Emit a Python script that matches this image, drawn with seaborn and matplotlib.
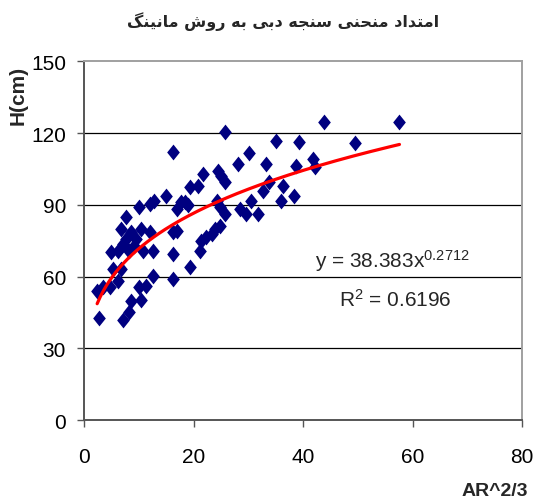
import matplotlib
matplotlib.use("Agg")
import matplotlib.pyplot as plt
import seaborn as sns
import numpy as np
import pandas as pd

# AR^(2/3) vs stage H (cm)
ar23 = [2.4, 2.7, 3.5, 4.7, 5.3, 5.0, 6.2, 6.2, 6.8, 6.8, 7.1, 7.1, 7.7, 7.7,
        8.3, 8.3, 8.6, 8.6, 9.2, 9.5, 10.1, 10.1, 10.4, 10.4, 10.7, 11.3, 12.0,
        12.0, 12.6, 12.6, 12.8, 15.0, 16.2, 16.2, 16.3, 16.3, 16.9, 16.9, 17.8,
        18.4, 19.3, 19.0, 19.3, 20.8, 21.1, 21.4, 21.7, 22.3, 23.3, 23.9, 24.2,
        24.5, 24.8, 24.8, 25.1, 25.7, 25.7, 25.7, 28.1, 28.4, 29.6, 30.2, 30.5,
        31.7, 32.7, 33.3, 33.8, 35.1, 36.0, 36.3, 38.4, 38.7, 39.2, 41.9, 42.1,
        43.9, 49.4, 57.6]
h_cm = [54.0, 42.5, 55.5, 55.5, 63.2, 70.1, 58.3, 70.8, 63.2, 79.9, 42.0, 73.6,
        75.7, 84.8, 45.0, 70.8, 49.9, 78.5, 72.9, 75.7, 55.5, 89.0, 50.4, 79.9,
        70.8, 56.2, 78.5, 90.3, 60.4, 70.8, 91.7, 93.8, 59.0, 69.4, 112.2, 78.5,
        79.2, 88.2, 91.0, 91.0, 64.0, 90.0, 97.3, 98.0, 70.8, 75.0, 102.7, 76.4,
        77.8, 79.9, 91.7, 104.3, 81.3, 89.0, 102.2, 120.3, 99.4, 86.2, 107.1,
        88.2, 86.2, 111.5, 91.7, 86.2, 95.9, 107.1, 99.4, 116.8, 91.7, 98.0,
        93.6, 106.4, 116.1, 109.2, 105.7, 124.8, 115.9, 124.8]

# power trendline shown on the chart
coef_a = 38.383
coef_b = 0.2712
r2 = 0.6196

x_ticks = [0, 20, 40, 60, 80]
y_ticks = [0, 30, 60, 90, 120, 150]

title = "امتداد منحنی سنجه دبی به روش مانینگ"

# minimal arabic/persian shaping (matplotlib has no shaping)
FORMS = {
    "ا": ("\uFE8D", "\uFE8E", None, None),
    "د": ("\uFEA9", "\uFEAA", None, None),
    "ر": ("\uFEAD", "\uFEAE", None, None),
    "و": ("\uFEED", "\uFEEE", None, None),
    "م": ("\uFEE1", "\uFEE2", "\uFEE3", "\uFEE4"),
    "ت": ("\uFE95", "\uFE96", "\uFE97", "\uFE98"),
    "ن": ("\uFEE5", "\uFEE6", "\uFEE7", "\uFEE8"),
    "ح": ("\uFEA1", "\uFEA2", "\uFEA3", "\uFEA4"),
    "ی": ("\uFBFC", "\uFBFD", "\uFBFE", "\uFBFF"),
    "س": ("\uFEB1", "\uFEB2", "\uFEB3", "\uFEB4"),
    "ج": ("\uFE9D", "\uFE9E", "\uFE9F", "\uFEA0"),
    "ه": ("\uFEE9", "\uFEEA", "\uFEEB", "\uFEEC"),
    "ب": ("\uFE8F", "\uFE90", "\uFE91", "\uFE92"),
    "ش": ("\uFEB5", "\uFEB6", "\uFEB7", "\uFEB8"),
    "گ": ("\uFB92", "\uFB93", "\uFB94", "\uFB95"),
}


def shape(text):
    out = []
    for i, ch in enumerate(text):
        if ch not in FORMS:
            out.append(ch)
            continue
        prev = text[i - 1] if i > 0 else " "
        nxt = text[i + 1] if i + 1 < len(text) else " "
        dual = FORMS[ch][2] is not None
        j_prev = prev in FORMS and FORMS[prev][2] is not None
        j_next = dual and nxt in FORMS
        if j_prev and j_next:
            out.append(FORMS[ch][3])
        elif j_next:
            out.append(FORMS[ch][2])
        elif j_prev:
            out.append(FORMS[ch][1])
        else:
            out.append(FORMS[ch][0])
    return "".join(out)[::-1]


sns.set_theme(style="white")
plt.rcParams["font.family"] = ["Liberation Sans", "DejaVu Sans"]
plt.rcParams["mathtext.fontset"] = "custom"
plt.rcParams["mathtext.rm"] = "Liberation Sans"
plt.rcParams["mathtext.default"] = "regular"

df = pd.DataFrame({"ar": ar23, "h": h_cm})

fig = plt.figure(figsize=(5.35, 5.02), dpi=100)
ax = fig.add_axes([0.157, 0.161, 0.819, 0.715])

diamond = [(0, 1), (0.8, 0), (0, -1), (-0.8, 0), (0, 1)]
sns.scatterplot(data=df, x="ar", y="h", ax=ax, marker=diamond, s=130,
                color="#000080", linewidth=0, zorder=3)

xs = np.linspace(min(ar23), max(ar23), 200)
ax.plot(xs, coef_a * xs ** coef_b, color="#ff0000", lw=2.3, zorder=4)

ax.set_xlim(0, 80)
ax.set_ylim(0, 150)
ax.set_xticks(x_ticks)
ax.set_yticks(y_ticks)
ax.set_xlabel("")
ax.set_ylabel("")
ax.yaxis.grid(True, color="black", lw=0.9)
gl = ax.get_ygridlines()
gl[0].set_visible(False)
gl[-1].set_visible(False)

for side in ["left", "bottom"]:
    ax.spines[side].set_color("#555555")
    ax.spines[side].set_linewidth(1.4)
for side in ["top", "right"]:
    ax.spines[side].set_color("#a0a0a0")
    ax.spines[side].set_linewidth(1.4)

ax.tick_params(axis="both", direction="out", length=5, width=1, color="#555555",
               labelsize=15, labelcolor="black")
ax.tick_params(axis="y", pad=8)
ax.tick_params(axis="x", pad=14)
ax.tick_params(left=True, bottom=True)

ax.text(0.703, 0.426, r"y = 38.383x$^{0.2712}$", transform=ax.transAxes,
        fontsize=15, va="baseline", ha="center")
ax.text(0.71, 0.318, r"R$^{2}$ = 0.6196", transform=ax.transAxes,
        fontsize=15, va="baseline", ha="center")

fig.text(0.034, 1 - 95 / 502, "H(cm)", rotation=90, fontsize=15,
         fontweight="bold", ha="center", va="center")
fig.text(495 / 535, 1 - 492 / 502, "AR^2/3", fontsize=14, fontweight="bold",
         ha="center", va="center")
fig.text(283 / 535, 1 - 22 / 502, shape(title), fontsize=11.5, fontweight="bold",
         ha="center", va="center", family=["DejaVu Sans"])

fig.savefig("out.png", dpi=100)
